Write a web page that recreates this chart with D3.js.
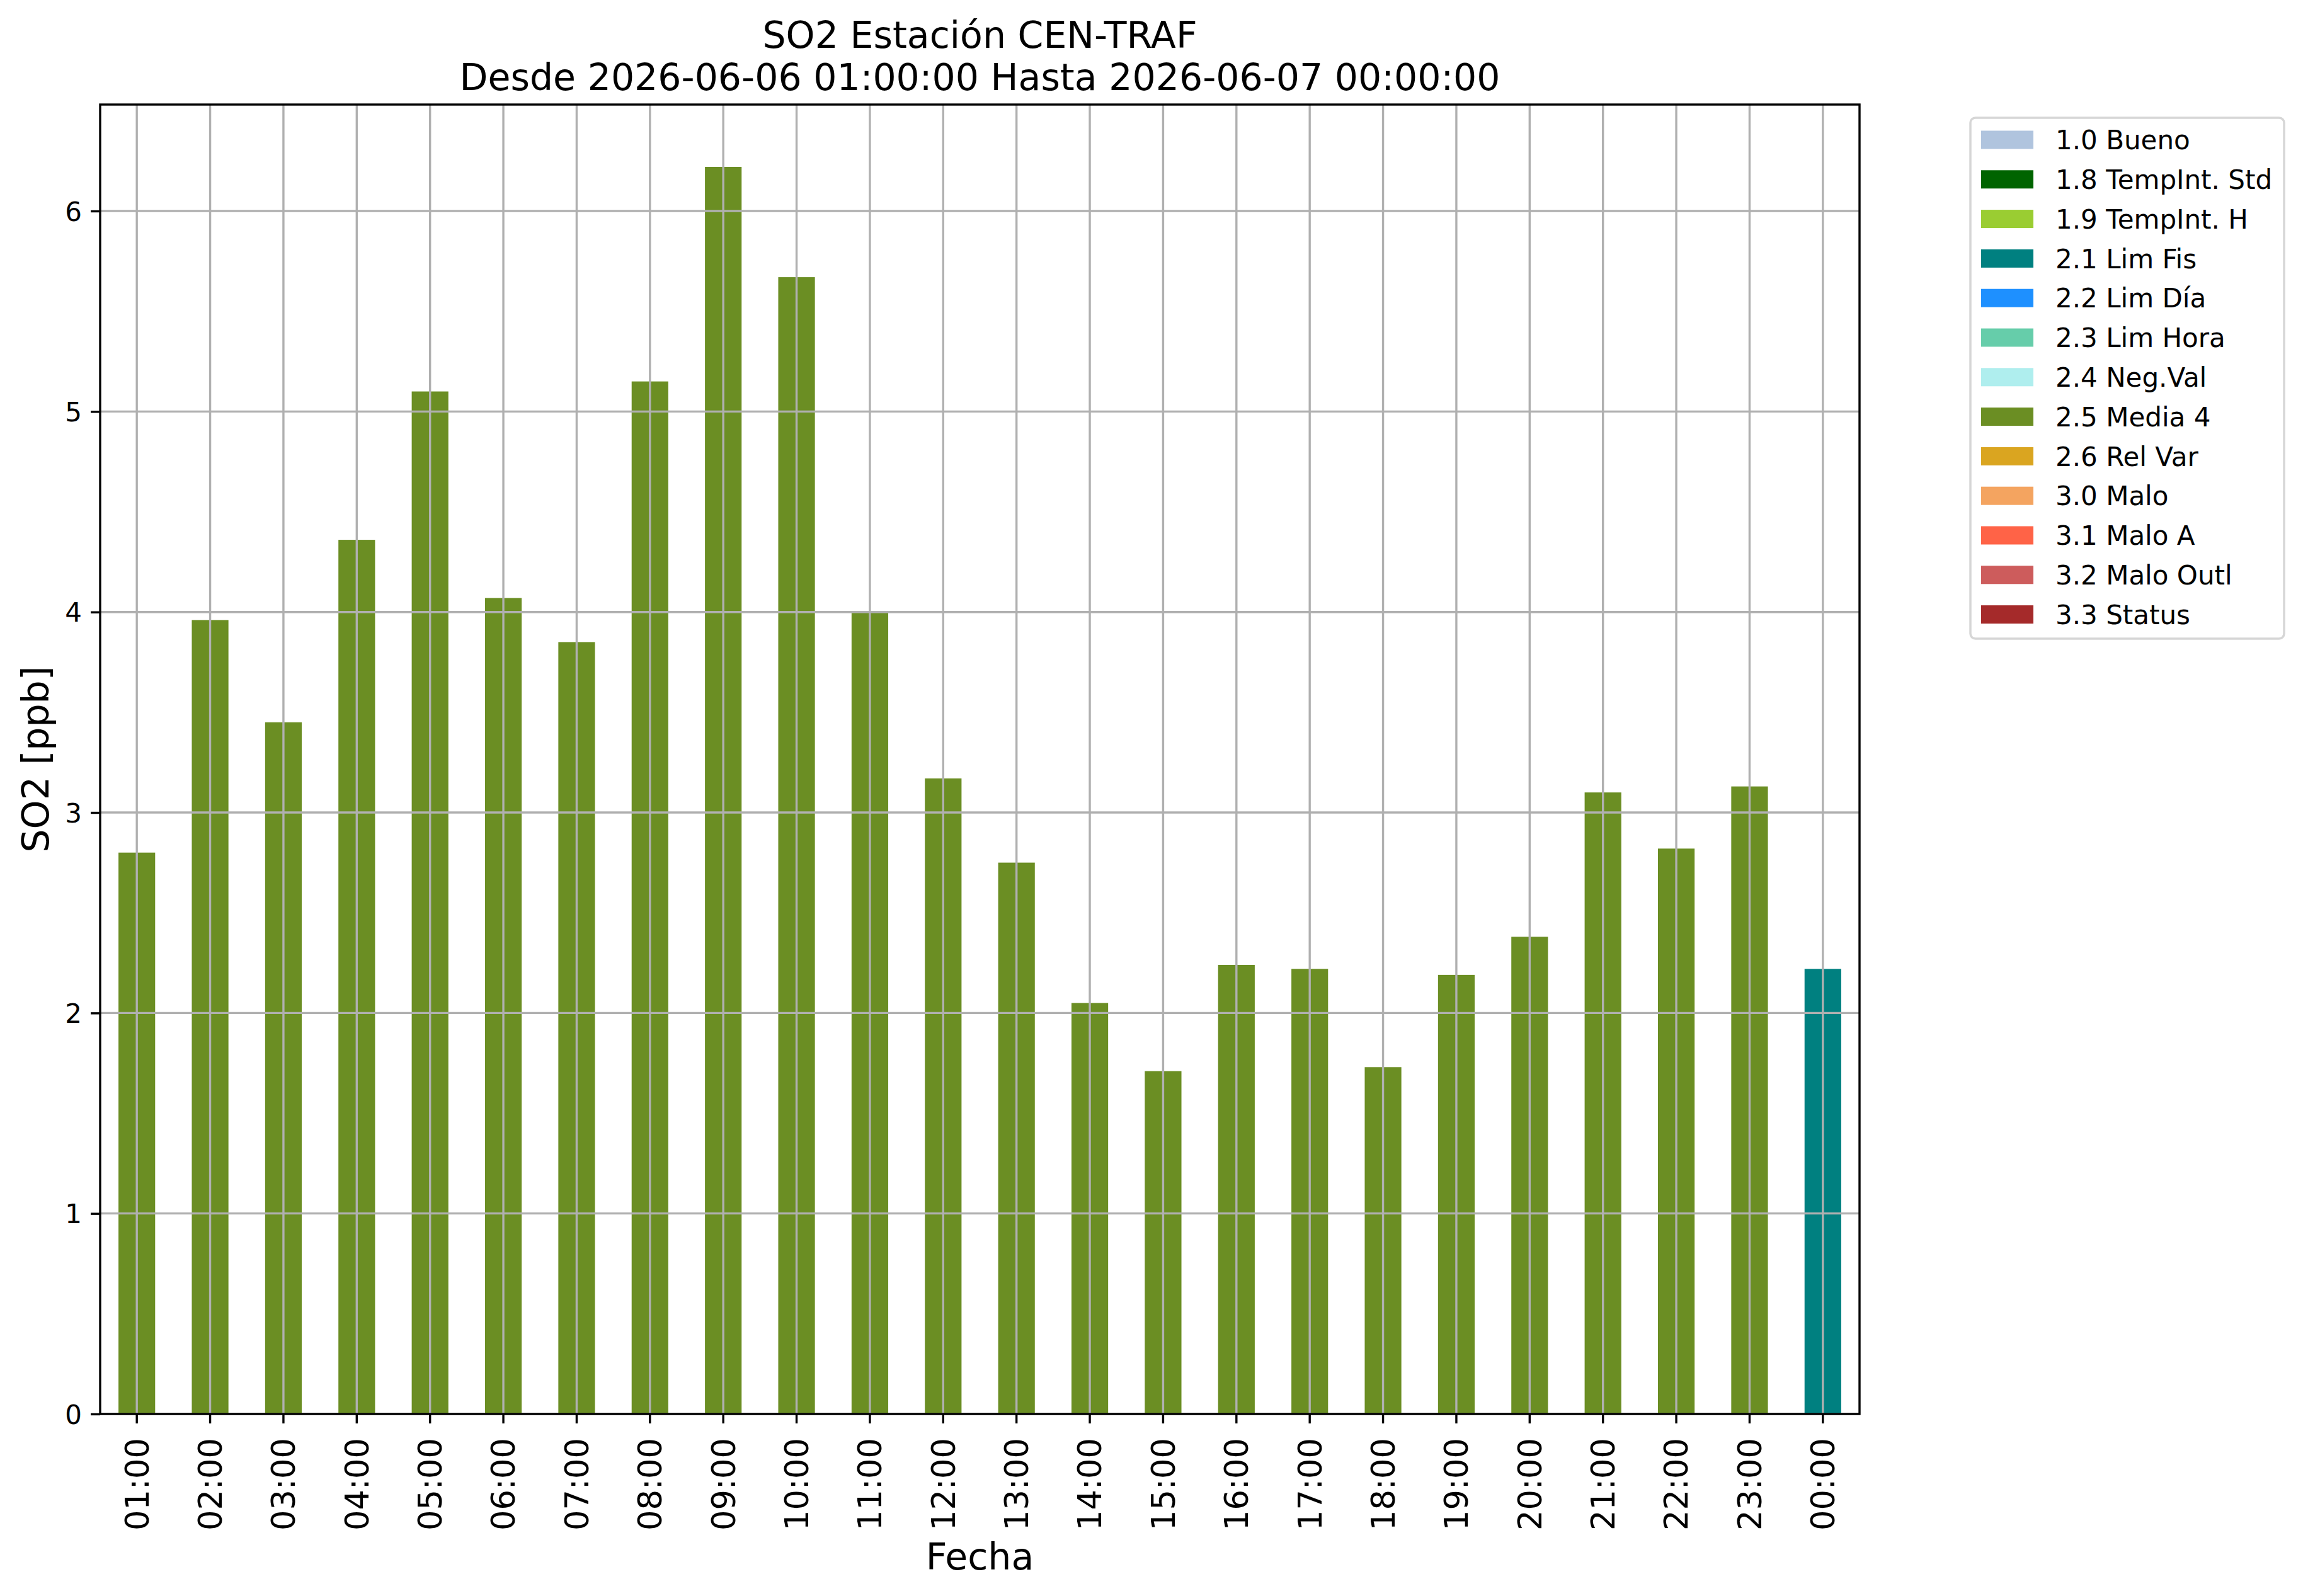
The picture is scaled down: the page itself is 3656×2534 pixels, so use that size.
<!DOCTYPE html>
<html>
<head>
<meta charset="utf-8">
<script src="https://cdn.jsdelivr.net/npm/d3@7"></script>
<style>
  body { margin: 0; background: #fff; }
  text { font-family: "DejaVu Sans", sans-serif; fill: #000; }
</style>
</head>
<body>
<div id="chart"></div>
<script>
// hourly SO2 values, one bar per hour
const hours = ["01:00", "02:00", "03:00", "04:00", "05:00", "06:00", "07:00", "08:00",
  "09:00", "10:00", "11:00", "12:00", "13:00", "14:00", "15:00", "16:00",
  "17:00", "18:00", "19:00", "20:00", "21:00", "22:00", "23:00", "00:00"];
const so2Values = [2.80, 3.96, 3.45, 4.36, 5.10, 4.07, 3.85, 5.15,
  6.22, 5.67, 4.00, 3.17, 2.75, 2.05, 1.71, 2.24,
  2.22, 1.73, 2.19, 2.38, 3.10, 2.82, 3.13, 2.22];
const hourFlags = ["2.5 Media 4", "2.5 Media 4", "2.5 Media 4", "2.5 Media 4", "2.5 Media 4", "2.5 Media 4",
  "2.5 Media 4", "2.5 Media 4", "2.5 Media 4", "2.5 Media 4", "2.5 Media 4", "2.5 Media 4",
  "2.5 Media 4", "2.5 Media 4", "2.5 Media 4", "2.5 Media 4", "2.5 Media 4", "2.5 Media 4",
  "2.5 Media 4", "2.5 Media 4", "2.5 Media 4", "2.5 Media 4", "2.5 Media 4", "2.1 Lim Fis"];

// quality flags shown in the legend
const flagLabels = ["1.0 Bueno", "1.8 TempInt. Std", "1.9 TempInt. H", "2.1 Lim Fis", "2.2 Lim Día",
  "2.3 Lim Hora", "2.4 Neg.Val", "2.5 Media 4", "2.6 Rel Var", "3.0 Malo", "3.1 Malo A",
  "3.2 Malo Outl", "3.3 Status"];
const flagColors = ["lightsteelblue", "darkgreen", "yellowgreen", "teal", "dodgerblue",
  "mediumaquamarine", "paleturquoise", "olivedrab", "goldenrod", "sandybrown", "tomato",
  "indianred", "brown"];
const yTicks = [0, 1, 2, 3, 4, 5, 6];

const titleLines = ["SO2 Estación CEN-TRAF", "Desde 2026-06-06 01:00:00 Hasta 2026-06-07 00:00:00"];

const data = hours.map((hour, i) => ({ hour, value: so2Values[i], flag: hourFlags[i] }));

const width = 3656;
const height = 2534;
const plot = { left: 159, top: 166, right: 2952, bottom: 2245 };

const svg = d3.select("#chart")
  .append("svg")
  .attr("width", width)
  .attr("height", height);

svg.append("rect")
  .attr("width", width)
  .attr("height", height)
  .attr("fill", "#fff");

const color = d3.scaleOrdinal()
  .domain(flagLabels)
  .range(flagColors);

const x = d3.scaleBand()
  .domain(hours)
  .range([plot.left, plot.right])
  .paddingInner(0.5)
  .paddingOuter(0.25);

const y = d3.scaleLinear()
  .domain([0, d3.max(so2Values) * 1.05])
  .range([plot.bottom, plot.top]);

// bars
svg.append("g")
  .selectAll("rect")
  .data(data)
  .enter()
    .append("rect")
    .attr("x", (d) => x(d.hour))
    .attr("width", x.bandwidth())
    .attr("y", (d) => y(d.value))
    .attr("height", (d) => y(0) - y(d.value))
    .attr("fill", (d) => color(d.flag));

// grid on top of the bars, like the original
const grid = svg.append("g")
  .attr("stroke", "#b0b0b0")
  .attr("stroke-width", 3.4);
grid.selectAll(".hgrid")
  .data(yTicks)
  .enter()
    .append("line")
    .attr("class", "hgrid")
    .attr("x1", plot.left)
    .attr("x2", plot.right)
    .attr("y1", (d) => y(d))
    .attr("y2", (d) => y(d));
grid.selectAll(".vgrid")
  .data(hours)
  .enter()
    .append("line")
    .attr("class", "vgrid")
    .attr("x1", (d) => x(d) + x.bandwidth() / 2)
    .attr("x2", (d) => x(d) + x.bandwidth() / 2)
    .attr("y1", plot.top)
    .attr("y2", plot.bottom);

// axes
const xAxis = svg.append("g")
  .attr("transform", `translate(0, ${plot.bottom})`)
  .call(d3.axisBottom(x).tickSize(15).tickSizeOuter(0));
xAxis.select(".domain").remove();
xAxis.selectAll("line").attr("stroke", "#000").attr("stroke-width", 3.4);
xAxis.selectAll("text")
  .attr("y", null)
  .attr("x", -38)
  .attr("dy", "0.36em")
  .attr("transform", "rotate(-90)")
  .attr("text-anchor", "end")
  .style("font-size", "51px")
  .style("font-family", "DejaVu Sans")
  .attr("fill", "#000");

const yAxis = svg.append("g")
  .attr("transform", `translate(${plot.left}, 0)`)
  .call(d3.axisLeft(y).tickValues(yTicks).tickFormat(d3.format("d")).tickSize(15).tickPadding(14).tickSizeOuter(0));
yAxis.select(".domain").remove();
yAxis.selectAll("line").attr("stroke", "#000").attr("stroke-width", 3.4);
yAxis.selectAll("text")
  .attr("dy", "0.36em")
  .style("font-size", "42px")
  .style("font-family", "DejaVu Sans")
  .attr("fill", "#000");

// frame
svg.append("rect")
  .attr("x", plot.left)
  .attr("y", plot.top)
  .attr("width", plot.right - plot.left)
  .attr("height", plot.bottom - plot.top)
  .attr("fill", "none")
  .attr("stroke", "#000")
  .attr("stroke-width", 3.4);

// titles and labels
const centerX = (plot.left + plot.right) / 2;
svg.selectAll(".title")
  .data(titleLines)
  .enter()
    .append("text")
    .attr("class", "title")
    .attr("x", centerX)
    .attr("y", (d, i) => 76 + i * 67)
    .attr("text-anchor", "middle")
    .style("font-size", "58.5px")
    .text((d) => d);

svg.append("text")
  .attr("x", centerX)
  .attr("y", 2492)
  .attr("text-anchor", "middle")
  .style("font-size", "58.5px")
  .text("Fecha");

svg.append("text")
  .attr("transform", `translate(77, ${(plot.top + plot.bottom) / 2}) rotate(-90)`)
  .attr("text-anchor", "middle")
  .style("font-size", "58.5px")
  .text("SO2 [ppb]");

// legend
const legend = svg.append("g")
  .attr("transform", "translate(3128, 187)");
legend.append("rect")
  .attr("width", 498)
  .attr("height", 827)
  .attr("rx", 8)
  .attr("fill", "#fff")
  .attr("stroke", "#d6d6d6")
  .attr("stroke-width", 3.5);
const rows = legend.selectAll(".legendRow")
  .data(flagLabels)
  .enter()
    .append("g")
    .attr("class", "legendRow")
    .attr("transform", (d, i) => `translate(0, ${35 + i * 62.8})`);
rows.append("rect")
  .attr("x", 17)
  .attr("y", -14.5)
  .attr("width", 83)
  .attr("height", 29)
  .attr("fill", (d) => color(d));
rows.append("text")
  .attr("x", 135)
  .attr("dy", "0.36em")
  .style("font-size", "42px")
  .text((d) => d);
</script>
</body>
</html>
